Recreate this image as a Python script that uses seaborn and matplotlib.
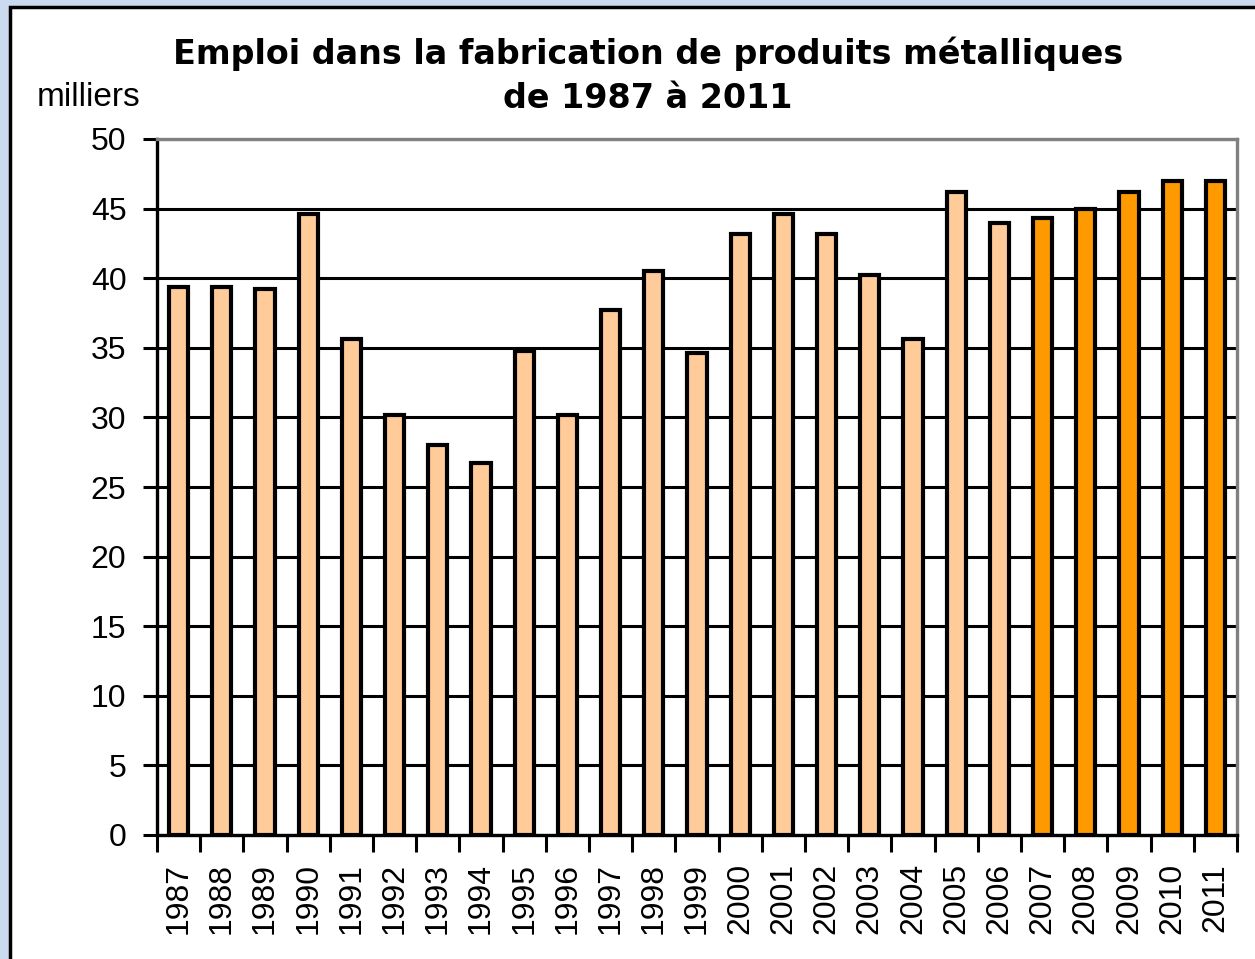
import matplotlib
matplotlib.use("Agg")
import matplotlib.pyplot as plt
from matplotlib.patches import Rectangle
from matplotlib.ticker import FixedLocator
import seaborn as sns
import pandas as pd

years = [str(y) for y in range(1987, 2012)]
values = [39.4, 39.4, 39.2, 44.6, 35.6, 30.2, 28.0, 26.7, 34.8, 30.2,
          37.7, 40.5, 34.6, 43.2, 44.6, 43.2, 40.2, 35.6, 46.2, 44.0,
          44.3, 45.0, 46.2, 47.0, 47.0]
period = ["past"] * 20 + ["recent"] * 5
palette = {"past": "#FFCC99", "recent": "#FF9900"}
yticks = [0, 5, 10, 15, 20, 25, 30, 35, 40, 45, 50]

sns.set_theme(style="white")
plt.rcParams["font.family"] = ["Liberation Sans", "DejaVu Sans"]
plt.rcParams["text.color"] = "black"
plt.rcParams["xtick.color"] = "black"
plt.rcParams["ytick.color"] = "black"

W, H = 1255, 959
fig = plt.figure(figsize=(W / 100, H / 100), dpi=100)
fig.patch.set_facecolor("#CCDAF0")
# white panel with black frame (top/left visible)
fig.patches.append(Rectangle((9.5 / W, -0.1), 1.2, (H - 6.5) / H + 0.1,
                             transform=fig.transFigure, facecolor="white",
                             edgecolor="black", linewidth=2.5, zorder=-5))

ax = fig.add_axes([157 / W, 1 - 835 / H, (1237 - 157) / W, (835 - 139) / H])
ax.set_zorder(5)
df = pd.DataFrame({"year": years, "value": values, "period": period})
sns.barplot(data=df, x="year", y="value", hue="period", palette=palette,
            saturation=1, dodge=False, width=0.44, edgecolor="black",
            linewidth=3.0, legend=False, ax=ax, zorder=3)

ax.set_ylim(0, 50)
ax.set_xlim(-0.5, len(years) - 0.5)
ax.set_yticks(yticks)
ax.set_yticklabels([str(v) for v in yticks], fontsize=23)
ax.yaxis.grid(True, color="black", linewidth=2.2, zorder=1)
ax.set_axisbelow(True)
ax.set_xlabel("")
ax.set_ylabel("")
ax.set_xticks(range(len(years)))
ax.set_xticklabels(years, rotation=90, fontsize=23)
ax.tick_params(axis="x", which="major", length=0, pad=20)
ax.xaxis.set_minor_locator(FixedLocator([i - 0.5 for i in range(len(years) + 1)]))
ax.tick_params(axis="x", which="minor", length=12, width=2.2, color="black",
               direction="out", bottom=True)
ax.tick_params(axis="y", length=10, width=2.2, color="black", direction="out",
               left=True, pad=12)
for side in ["left", "bottom"]:
    ax.spines[side].set_color("black")
    ax.spines[side].set_linewidth(2.4)
for side in ["top", "right"]:
    ax.spines[side].set_color("#808080")
    ax.spines[side].set_linewidth(2.4)
ax.set_facecolor("white")

fig.text(648 / W, 1 - 54 / H, "Emploi dans la fabrication de produits métalliques",
         ha="center", va="center", fontsize=24, fontweight="bold",
         family="DejaVu Sans", color="black")
fig.text(648 / W, 1 - 99 / H, "de 1987 à 2011",
         ha="center", va="center", fontsize=24, fontweight="bold",
         family="DejaVu Sans", color="black")
fig.text(37 / W, 1 - 97 / H, "milliers", ha="left", va="center", fontsize=24,
         color="black")

fig.savefig("out.png", dpi=100, facecolor=fig.get_facecolor())
